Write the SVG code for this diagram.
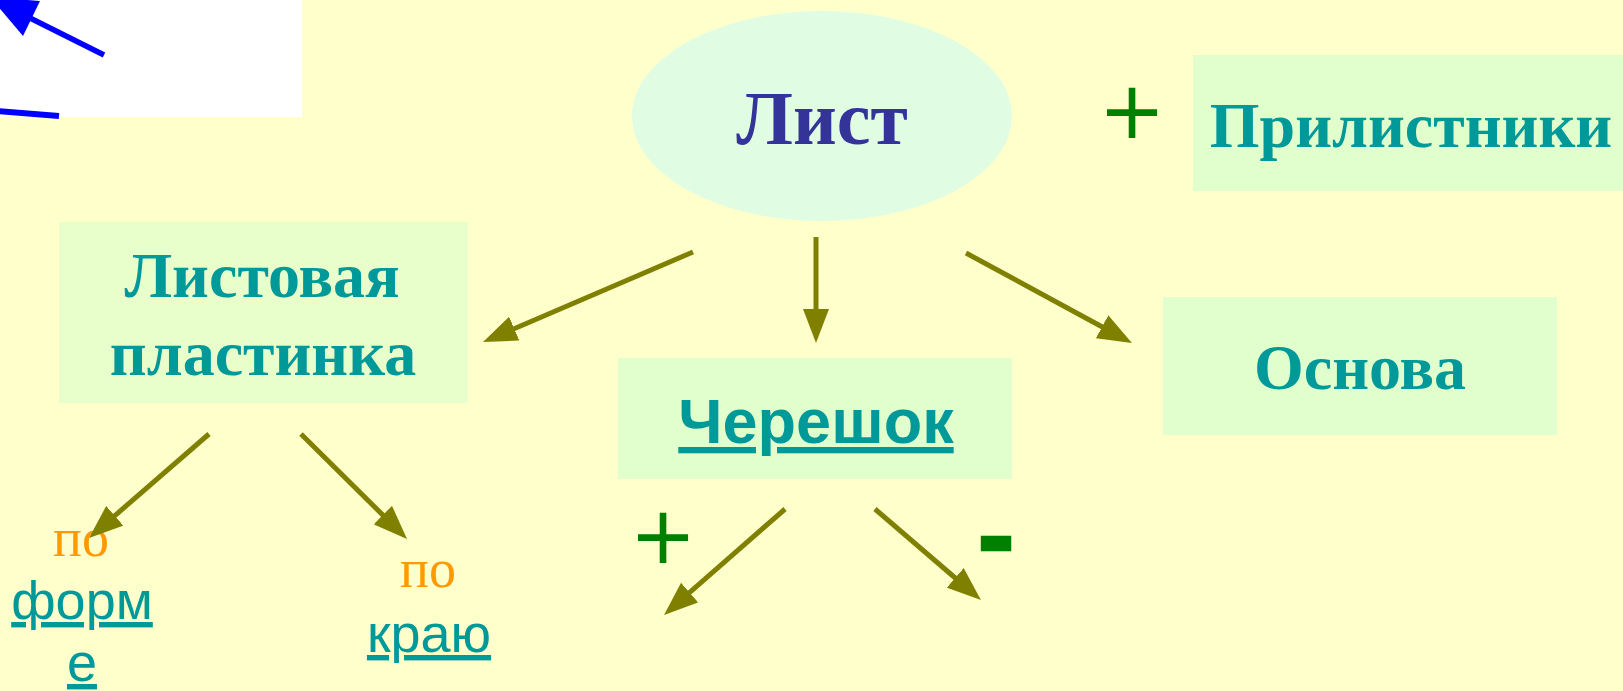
<svg xmlns="http://www.w3.org/2000/svg" width="1623" height="691" viewBox="0 0 1623 691">
<style>
.box{fill:#E1FFCD}
.tt{font-family:"Liberation Serif","Times New Roman",serif;font-weight:bold;fill:#009999;text-anchor:middle}
.sans{font-family:"Liberation Sans",Arial,sans-serif;fill:#009999;text-anchor:middle;text-decoration:underline}
.po{font-family:"Liberation Serif","Times New Roman",serif;fill:#FF9900;text-anchor:middle;font-size:54px}
.sign{font-family:"DejaVu Sans",sans-serif;fill:#008000;text-anchor:middle}
.arr{stroke:#808000;stroke-width:5;fill:none;marker-end:url(#ah)}
</style>
<defs>
<marker id="ah" viewBox="0 0 34 26" refX="4" refY="13" markerWidth="34" markerHeight="26" orient="auto" markerUnits="userSpaceOnUse">
<path d="M0,0 L34,13 L0,26 z" fill="#808000"/>
</marker>
</defs>
<rect x="0" y="0" width="1623" height="691" fill="#FFFFCC"/>
<g id="corner">
<rect x="0" y="0" width="302" height="117" fill="#FFFFFF"/>
<line x1="104" y1="55" x2="30" y2="18" stroke="#0000FF" stroke-width="5.5"/>
<polygon points="40,1 23,36 -10,-3" fill="#0000FF"/>
<line x1="-2" y1="111" x2="59" y2="116" stroke="#0000FF" stroke-width="6"/>
</g>
<g id="list">
<ellipse cx="822" cy="116" rx="190" ry="105" fill="#E0FDE4"/>
<text x="822" y="144" font-family="Liberation Serif,serif" font-weight="bold" font-size="76" fill="#333399" text-anchor="middle">Лист</text>
</g>
<g id="prilistniki">
<rect class="box" x="1193" y="55" width="435" height="136"/>
<text class="tt" x="1411" y="147" font-size="64">Прилистники</text>
</g>
<text class="sign" x="1132" y="138" font-size="80">+</text>
<g id="plastinka">
<rect x="59" y="222" width="409" height="181" fill="#E8FFCB"/>
<text class="tt" x="262" y="297" font-size="64">Листовая</text>
<text class="tt" x="263" y="375" font-size="64">пластинка</text>
</g>
<g id="chereshok">
<rect class="box" x="618" y="358" width="394" height="121"/>
<text class="sans" x="816" y="443" font-size="63" font-weight="bold">Черешок</text>
</g>
<g id="osnova">
<rect class="box" x="1163" y="297" width="394" height="138"/>
<text class="tt" x="1360" y="389" font-size="64">Основа</text>
</g>
<g id="forma">
<text class="po" x="81" y="556">по</text>
<text class="sans" x="82" y="619" font-size="54">форм</text>
<text class="sans" x="82" y="681" font-size="54">е</text>
</g>
<g id="kray">
<text class="po" x="428" y="587">по</text>
<text class="sans" x="429" y="652" font-size="54">краю</text>
</g>
<text class="sign" x="663" y="563" font-size="80">+</text>
<text x="996" y="572" font-family="Liberation Sans,sans-serif" font-weight="bold" font-size="110" fill="#008000" stroke="#008000" stroke-width="2.5" text-anchor="middle">-</text>
<g id="connectors">
<line class="arr" x1="693" y1="252" x2="510.6" y2="330.2"/>
<line class="arr" x1="816" y1="237" x2="816" y2="313"/>
<line class="arr" x1="966" y1="253" x2="1105.6" y2="328.7"/>
<line class="arr" x1="209" y1="434" x2="111.7" y2="518.4"/>
<line class="arr" x1="301" y1="434" x2="385.7" y2="517.9"/>
<line class="arr" x1="785" y1="509" x2="686.6" y2="595.2"/>
<line class="arr" x1="875" y1="509" x2="958.2" y2="580.5"/>
</g>
</svg>
